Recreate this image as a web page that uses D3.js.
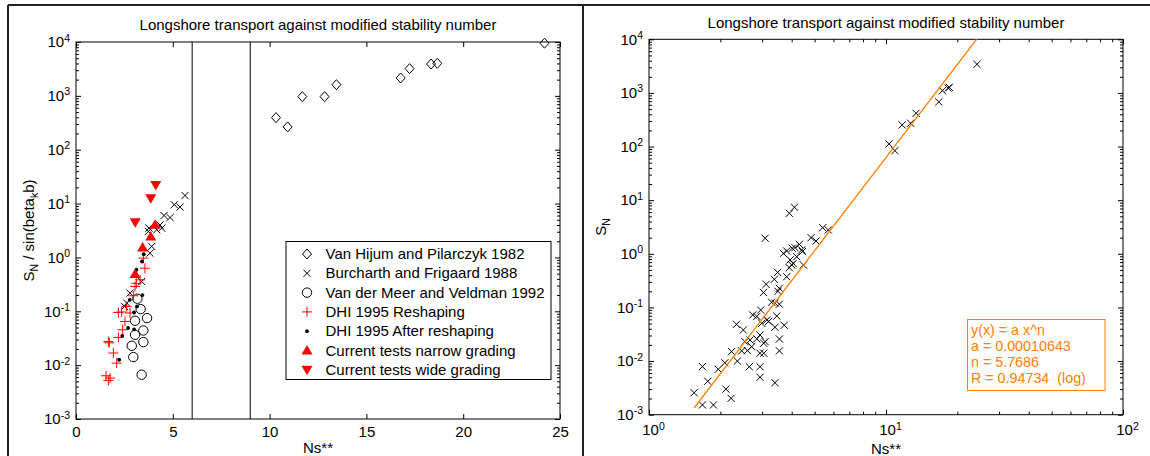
<!DOCTYPE html>
<html><head><meta charset="utf-8">
<script src="https://cdn.jsdelivr.net/npm/d3@7"></script>
<style>
body{margin:0;background:#fff}
svg{display:block}
text{font-family:"Liberation Sans",Arial,Helvetica,sans-serif}
</style></head>
<body><svg id="c" width="1150" height="456"></svg>
<script>
// ---------------- DATA ----------------
const chartTitle = "Longshore transport against modified stability number";
const xLabel = "Ns**";
const xTicksLeft = [0, 5, 10, 15, 20, 25];
const yDecades = [1e-3, 1e-2, 1e-1, 1e0, 1e1, 1e2, 1e3, 1e4];
const xDecadesRight = [1, 10, 100];
const verticalLines = [6, 9];

const legendLabels = [
  "Van Hijum and Pilarczyk 1982",
  "Burcharth and Frigaard 1988",
  "Van der Meer and Veldman 1992",
  "DHI 1995 Reshaping",
  "DHI 1995 After reshaping",
  "Current tests narrow grading",
  "Current tests wide grading"
];

// left panel: Ns** vs S_N / sin(beta_k b)
const vanHijum = [[10.33,394],[10.93,265],[11.69,966],[12.84,966],[13.45,1614],[16.77,2148],[17.23,3200],[18.34,3900],[18.66,4025],[24.2,9500]];
const burcharth = [[5.63,14.1],[5.37,8.6],[5.08,9.5],[4.86,5.5],[4.55,6.0],[4.43,3.5],[4.34,4.0],[4.17,3.26],[3.77,3.5],[3.74,3.03],[3.91,1.6],[3.82,1.2],[3.39,0.357],[2.79,0.217],[2.62,0.142],[2.51,0.123]];
const vanDerMeer = [[3.17,0.171],[3.34,0.11],[3.67,0.0747],[3.05,0.0667],[3.48,0.044],[3.05,0.0366],[3.48,0.0268],[2.88,0.0229],[2.96,0.0141],[3.39,0.00664]];
const dhiReshaping = [[3.48,0.97],[3.56,0.63],[3.31,0.384],[3.12,0.33],[3.05,0.289],[2.96,0.194],[2.62,0.123],[2.19,0.095],[2.36,0.097],[2.79,0.093],[2.53,0.0647],[2.41,0.0454],[2.19,0.0327],[1.67,0.0275],[1.72,0.026],[1.93,0.0168],[2.1,0.0109],[1.55,0.00635],[1.76,0.00575],[1.67,0.0052]];
const dhiAfter = [[3.5,1.15],[3.41,0.84],[3.12,0.59],[3.43,0.2],[2.78,0.163],[3.15,0.123],[3.0,0.095],[2.69,0.049],[3.0,0.046],[2.39,0.035],[2.23,0.0126]];
const narrowGrading = [[4.08,4.03],[3.86,2.44],[3.44,1.53],[3.05,0.49]];
const wideGrading = [[4.12,22.2],[3.86,12.6],[3.06,4.5]];

// right panel: Ns** vs S_N (all data)
const allData = [
  [24.2,3420],[18.5,1274],[18.3,1230],[17.3,1100],[16.7,679],[13.4,417],[12.7,272],[11.7,253],[10.3,112],[10.9,84],
  [4.11,7.4],[3.91,5.7],[3.09,1.95],[5.41,3.07],[5.71,2.78],[4.83,2.0],[5.07,1.73],[4.31,1.5],[4.13,1.3],[4.02,1.27],[4.44,1.1],
  [3.81,1.13],[3.69,1.02],[4.41,1.18],[4.2,0.88],[3.94,0.77],[3.91,0.55],[4.0,0.62],[4.48,0.62],[4.06,0.66],
  [3.49,0.45],[3.81,0.374],[3.38,0.335],[3.12,0.27],[3.55,0.228],[3.5,0.2],[3.04,0.19],[3.29,0.125],[3.55,0.115],[3.4,0.12],[2.96,0.0895],
  [2.74,0.0723],[2.85,0.068],[3.46,0.069],[3.14,0.0583],[3.2,0.055],[2.99,0.0506],[2.34,0.0484],[2.5,0.038],[3.4,0.0427],[3.72,0.0465],
  [2.94,0.0306],[2.54,0.023],[2.67,0.0247],[2.85,0.026],[3.09,0.023],[3.05,0.0215],[3.55,0.0258],[2.23,0.015],[2.46,0.0155],[2.6,0.0157],
  [2.71,0.0185],[2.94,0.014],[3.05,0.014],[3.55,0.0155],[2.36,0.01],[2.09,0.0093],[1.96,0.00703],[1.68,0.0079],[2.65,0.00785],[2.94,0.00785],
  [2.94,0.00499],[3.4,0.00395],[1.77,0.0042],[1.55,0.00257],[2.11,0.003],[2.22,0.00202],[1.68,0.00152],[1.87,0.00152]
];
const fitA = 0.00010643;
const fitN = 5.7686;
const fitLines = ["y(x) = a x^n", "a = 0.00010643", "n = 5.7686", "R = 0.94734  (log)"];

// ---------------- DRAWING ----------------
const svg = d3.select("#c");
const FS = 15, SUPFS = 10.5, FITFS = 14.3;
const RED = "#ff0000", ORANGE = "#ff8000";

// outer frame
svg.append("line").attr("x1",8).attr("x2",1150).attr("y1",5).attr("y2",5).attr("stroke","#222").attr("stroke-width",2);
svg.append("line").attr("x1",8).attr("x2",8).attr("y1",5).attr("y2",456).attr("stroke","#222").attr("stroke-width",2);
svg.append("line").attr("x1",583).attr("x2",583).attr("y1",5).attr("y2",456).attr("stroke","#222").attr("stroke-width",2);

function minorTicks(decs){
  const out=[];
  for(let i=0;i<decs.length-1;i++) for(let k=2;k<=9;k++) out.push(decs[i]*k);
  return out;
}
function styleAxis(g){
  g.select(".domain").remove();
  g.attr("font-family",'"Liberation Sans",Arial,sans-serif').attr("font-size",FS);
  g.selectAll("line").attr("stroke","#000");
  g.selectAll("text").attr("fill","#000");
}
function supLabels(g){
  g.selectAll("text").each(function(d){
    const t=d3.select(this); const e=Math.round(Math.log10(d));
    t.text(null);
    t.append("tspan").text("10");
    t.append("tspan").attr("dy","-0.55em").attr("font-size",SUPFS).text(e);
  });
}
// marker shapes (pixel sizes only)
function mk(g, type, x, y, color){
  if(type==="diamond") g.append("path").attr("d",`M${x},${y-5}L${x+4.5},${y}L${x},${y+5}L${x-4.5},${y}Z`).attr("fill","none").attr("stroke",color).attr("stroke-width",1);
  else if(type==="x") g.append("path").attr("d",`M${x-3.6},${y-3.6}L${x+3.6},${y+3.6}M${x-3.6},${y+3.6}L${x+3.6},${y-3.6}`).attr("stroke",color).attr("stroke-width",1);
  else if(type==="circle") g.append("circle").attr("cx",x).attr("cy",y).attr("r",4.7).attr("fill","none").attr("stroke",color).attr("stroke-width",1);
  else if(type==="plus") g.append("path").attr("d",`M${x-5},${y}L${x+5},${y}M${x},${y-5}L${x},${y+5}`).attr("stroke",color).attr("stroke-width",1);
  else if(type==="dot") g.append("circle").attr("cx",x).attr("cy",y).attr("r",1.9).attr("fill",color);
  else if(type==="up") g.append("path").attr("d",`M${x},${y-5.5}L${x+5.5},${y+4}L${x-5.5},${y+4}Z`).attr("fill",color);
  else if(type==="down") g.append("path").attr("d",`M${x},${y+5.5}L${x+5.5},${y-4}L${x-5.5},${y-4}Z`).attr("fill",color);
}

// ===== LEFT PANEL =====
const xL = d3.scaleLinear().domain([0,25]).range([76,560]);
const yL = d3.scaleLog().domain([1e-3,1e4]).range([419,42]);
const L = svg.append("g");
L.append("rect").attr("x",xL(0)).attr("y",yL(1e4)).attr("width",xL(25)-xL(0)).attr("height",yL(1e-3)-yL(1e4)).attr("fill","none").attr("stroke","#000");

let g;
g = L.append("g").attr("transform",`translate(0,${yL(1e-3)})`).call(d3.axisBottom(xL).tickValues(xTicksLeft).tickSizeInner(-5).tickSizeOuter(0).tickPadding(7)); styleAxis(g);
g = L.append("g").attr("transform",`translate(0,${yL(1e4)})`).call(d3.axisTop(xL).tickValues(xTicksLeft).tickSizeInner(-5).tickSizeOuter(0).tickFormat(()=>"")); styleAxis(g);
g = L.append("g").attr("transform",`translate(${xL(0)},0)`).call(d3.axisLeft(yL).tickValues(yDecades).tickSizeInner(-5).tickSizeOuter(0).tickPadding(6)); styleAxis(g); supLabels(g);
g = L.append("g").attr("transform",`translate(${xL(0)},0)`).call(d3.axisLeft(yL).tickValues(minorTicks(yDecades)).tickSizeInner(-3).tickSizeOuter(0).tickFormat(()=>"")); styleAxis(g);
g = L.append("g").attr("transform",`translate(${xL(25)},0)`).call(d3.axisRight(yL).tickValues(yDecades).tickSizeInner(-5).tickSizeOuter(0).tickFormat(()=>"")); styleAxis(g);
g = L.append("g").attr("transform",`translate(${xL(25)},0)`).call(d3.axisRight(yL).tickValues(minorTicks(yDecades)).tickSizeInner(-3).tickSizeOuter(0).tickFormat(()=>"")); styleAxis(g);

verticalLines.forEach(v=>{
  L.append("line").attr("x1",xL(v)).attr("x2",xL(v)).attr("y1",yL(1e4)).attr("y2",yL(1e-3)).attr("stroke","#000");
});

const P = L.append("g");
vanHijum.forEach(d=>mk(P,"diamond",xL(d[0]),yL(d[1]),"#000"));
vanDerMeer.forEach(d=>mk(P,"circle",xL(d[0]),yL(d[1]),"#000"));
burcharth.forEach(d=>mk(P,"x",xL(d[0]),yL(d[1]),"#000"));
dhiReshaping.forEach(d=>mk(P,"plus",xL(d[0]),yL(d[1]),RED));
dhiAfter.forEach(d=>mk(P,"dot",xL(d[0]),yL(d[1]),"#000"));
narrowGrading.forEach(d=>mk(P,"up",xL(d[0]),yL(d[1]),RED));
wideGrading.forEach(d=>mk(P,"down",xL(d[0]),yL(d[1]),RED));

// title / labels
L.append("text").attr("x",(xL(0)+xL(25))/2).attr("y",30).attr("text-anchor","middle").attr("font-size",FS).text(chartTitle);
L.append("text").attr("x",(xL(0)+xL(25))/2).attr("y",453).attr("text-anchor","middle").attr("font-size",FS).text(xLabel);
const yl = L.append("text").attr("transform",`translate(34,${(yL(1e4)+yL(1e-3))/2}) rotate(-90)`).attr("text-anchor","middle").attr("font-size",FS);
yl.append("tspan").text("S");
yl.append("tspan").attr("dy",4).attr("font-size",SUPFS).text("N");
yl.append("tspan").attr("dy",-4).text(" / sin(beta");
yl.append("tspan").attr("dy",4).attr("font-size",SUPFS).text("k");
yl.append("tspan").attr("dy",-4).text("b)");

// legend
const lg = L.append("g");
lg.append("rect").attr("x",286).attr("y",241.5).attr("width",265).attr("height",138).attr("fill","#fff").attr("stroke","#000");
const legTypes = [["diamond","#000"],["x","#000"],["circle","#000"],["plus",RED],["dot","#000"],["up",RED],["down",RED]];
legendLabels.forEach((lab,i)=>{
  const cy = 254 + i*19.3;
  mk(lg, legTypes[i][0], 307, cy, legTypes[i][1]);
  lg.append("text").attr("x",325.5).attr("y",cy+5).attr("font-size",FS).text(lab);
});

// ===== RIGHT PANEL =====
const xR = d3.scaleLog().domain([1,100]).range([649,1123]);
const yR = d3.scaleLog().domain([1e-3,1e4]).range([414.7,39.3]);
const R = svg.append("g");
R.append("rect").attr("x",xR(1)).attr("y",yR(1e4)).attr("width",xR(100)-xR(1)).attr("height",yR(1e-3)-yR(1e4)).attr("fill","none").attr("stroke","#000");

g = R.append("g").attr("transform",`translate(0,${yR(1e-3)})`).call(d3.axisBottom(xR).tickValues(xDecadesRight).tickSizeInner(-5).tickSizeOuter(0).tickPadding(10)); styleAxis(g); supLabels(g);
g.selectAll("text").attr("dx",4);
g = R.append("g").attr("transform",`translate(0,${yR(1e-3)})`).call(d3.axisBottom(xR).tickValues(minorTicks(xDecadesRight)).tickSizeInner(-3).tickSizeOuter(0).tickFormat(()=>"")); styleAxis(g);
g = R.append("g").attr("transform",`translate(0,${yR(1e4)})`).call(d3.axisTop(xR).tickValues(xDecadesRight).tickSizeInner(-5).tickSizeOuter(0).tickFormat(()=>"")); styleAxis(g);
g = R.append("g").attr("transform",`translate(0,${yR(1e4)})`).call(d3.axisTop(xR).tickValues(minorTicks(xDecadesRight)).tickSizeInner(-3).tickSizeOuter(0).tickFormat(()=>"")); styleAxis(g);
g = R.append("g").attr("transform",`translate(${xR(1)},0)`).call(d3.axisLeft(yR).tickValues(yDecades).tickSizeInner(-5).tickSizeOuter(0).tickPadding(6)); styleAxis(g); supLabels(g);
g = R.append("g").attr("transform",`translate(${xR(1)},0)`).call(d3.axisLeft(yR).tickValues(minorTicks(yDecades)).tickSizeInner(-3).tickSizeOuter(0).tickFormat(()=>"")); styleAxis(g);
g = R.append("g").attr("transform",`translate(${xR(100)},0)`).call(d3.axisRight(yR).tickValues(yDecades).tickSizeInner(-5).tickSizeOuter(0).tickFormat(()=>"")); styleAxis(g);
g = R.append("g").attr("transform",`translate(${xR(100)},0)`).call(d3.axisRight(yR).tickValues(minorTicks(yDecades)).tickSizeInner(-3).tickSizeOuter(0).tickFormat(()=>"")); styleAxis(g);

// clip
svg.append("defs").append("clipPath").attr("id","clipR").append("rect")
  .attr("x",xR(1)).attr("y",yR(1e4)).attr("width",xR(100)-xR(1)).attr("height",yR(1e-3)-yR(1e4));

const RP = R.append("g");
allData.forEach(d=>mk(RP,"x",xR(d[0]),yR(d[1]),"#000"));

// fit line (straight on log-log axes) between the data extent
const ext = d3.extent(allData, d=>d[0]);
const fitPts = ext.map(x=>[x, fitA*Math.pow(x,fitN)]);
R.append("path").attr("clip-path","url(#clipR)")
  .attr("d", d3.line().x(d=>xR(d[0])).y(d=>yR(d[1]))(fitPts))
  .attr("fill","none").attr("stroke",ORANGE).attr("stroke-width",1.3);

// fit box
R.append("rect").attr("x",967.5).attr("y",319.5).attr("width",137.5).attr("height",71).attr("fill","#fff").attr("stroke",ORANGE);
fitLines.forEach((t,i)=>{
  R.append("text").attr("x",971).attr("y",334.5+i*16.3).attr("font-size",FITFS).attr("fill",ORANGE).style("white-space","pre").text(t);
});

R.append("text").attr("x",(xR(1)+xR(100))/2).attr("y",28).attr("text-anchor","middle").attr("font-size",FS).text(chartTitle);
R.append("text").attr("x",(xR(1)+xR(100))/2).attr("y",454).attr("text-anchor","middle").attr("font-size",FS).text(xLabel);
const yr = R.append("text").attr("transform",`translate(606,${(yR(1e4)+yR(1e-3))/2}) rotate(-90)`).attr("text-anchor","middle").attr("font-size",FS);
yr.append("tspan").text("S");
yr.append("tspan").attr("dy",4).attr("font-size",SUPFS).text("N");
</script>
</body></html>
